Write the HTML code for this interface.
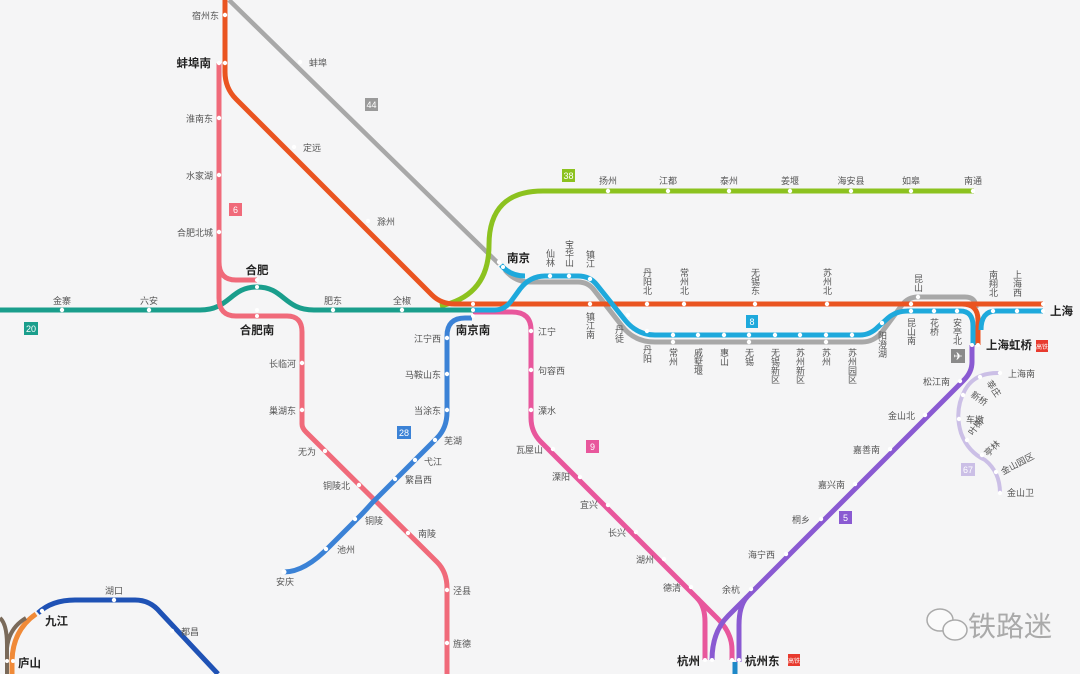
<!DOCTYPE html>
<html><head><meta charset="utf-8"><style>
html,body{margin:0;padding:0;background:#f5f5f6;}
svg{display:block;font-family:"Liberation Sans","Noto Sans CJK SC",sans-serif;}
.s{font-size:9px;fill:#555;}
.b{font-size:11.5px;font-weight:bold;fill:#222;}
.v{font-size:9px;fill:#555;writing-mode:vertical-rl;letter-spacing:0px;}
.bd{font-size:9px;fill:#fff;text-anchor:middle;}
path{fill:none;stroke-linecap:butt;stroke-linejoin:round;}
</style></head><body>
<svg width="1080" height="674" viewBox="0 0 1080 674" xmlns="http://www.w3.org/2000/svg">
<rect width="1080" height="674" fill="#f5f5f6"/>
<!-- gray 44 -->
<path d="M229,0 L499,264" stroke="#a8a8a8" stroke-width="4.5"/>
<!-- gray 8 -->
<path d="M505,270 Q515,282 530,282 H578 Q588,282 594,290 L622,326 Q634,342 655,342 H862 Q874,342 882,332 L902,305 Q908,297 918,297 H965 Q976,297 976,308" stroke="#a8a8a8" stroke-width="5"/>
<!-- green 38 -->
<path d="M440,306 Q489,296 489,245 Q489,191 543,191 H974" stroke="#8cc21f" stroke-width="5"/>
<!-- teal 20 -->
<path d="M0,310 H200 C230,310 230,287 257,287 C284,287 284,310 314,310 H474" stroke="#1a9e8c" stroke-width="5"/>
<!-- pink 6 -->
<path d="M219,63 V298 Q219,316 236,316 H287 Q302,316 302,332 V424 Q302,428 306,432 L437,562 Q447,572 447,588 V674" stroke="#f06a7a" stroke-width="5"/>
<path d="M219,262 Q219,280 236,280 H257" stroke="#f06a7a" stroke-width="5"/>
<!-- blue 28 -->
<path d="M472,318 H465 Q447,318 447,336 V412 Q447,428 437,438 L372,503 Q364,512 360,516 L330,546 Q305,572 284,572" stroke="#3b82d6" stroke-width="5"/>
<!-- magenta 9 -->
<path d="M473,312 H512 Q531,312 531,330 V418 Q531,432 541,442 L697,598 Q705,606 705,622 V660" stroke="#e8579c" stroke-width="5"/>
<path d="M697,598 L718,619 Q732,633 732,650 V660" stroke="#e8579c" stroke-width="5"/>
<!-- orange -->
<path d="M225,0 V72 Q225,88 236,99 L432,295 Q441,304 455,304 H1043" stroke="#ea5420" stroke-width="5"/>
<path d="M962,304 Q978,304 978,320 V345" stroke="#ea5420" stroke-width="5"/>
<!-- cyan 8 -->
<path d="M473,310 H495 Q505,310 512,300 L520,289 Q530,276 545,276 H578 Q590,276 597,285 L625,320 Q637,335 655,335 H860 Q870,335 878,327 L888,318 Q896,311 908,311 H960 Q973,311 973,326 V345" stroke="#1ea9dc" stroke-width="5"/>
<path d="M501,265 Q510,276 525,276" stroke="#1ea9dc" stroke-width="5"/>
<path d="M981,330 Q981,311 996,311 H1043" stroke="#1ea9dc" stroke-width="5"/>
<!-- purple 5 -->
<path d="M972,345 V362 Q972,372 964,380 L728,616 Q712,632 712,660" stroke="#8a5ad2" stroke-width="5"/>
<path d="M747,597 Q739,606 739,625 V662" stroke="#8a5ad2" stroke-width="5"/>
<path d="M735,662 V674" stroke="#1e88c8" stroke-width="5"/>
<!-- light purple 67 -->
<path d="M1000,373 Q975,372 965,390 Q954,410 961,433 Q968,452 985,460 Q1000,472 1000,493" stroke="#cbbfe6" stroke-width="4"/>
<!-- bottom-left -->
<path d="M38,613 Q52,600 75,600 H135 Q150,600 160,612 L218,674" stroke="#1f52b5" stroke-width="5"/>
<path d="M36,614 Q13,630 12,660 V674" stroke="#f08a38" stroke-width="5"/>
<path d="M0,618 Q7,624 7,645 V674 M26,618 Q9,628 7,648" stroke="#7a6a5a" stroke-width="4"/>

<!-- station dots -->
<g fill="#fff">
<circle cx="225" cy="15" r="2.2"/><circle cx="219" cy="63" r="2.2"/><circle cx="225" cy="63" r="2.2"/>
<circle cx="300" cy="62" r="2.2"/><circle cx="294" cy="147" r="2.2"/><circle cx="368" cy="221" r="2.2"/>
<circle cx="219" cy="118" r="2.2"/><circle cx="219" cy="175" r="2.2"/><circle cx="219" cy="232" r="2.2"/>
<circle cx="257" cy="280" r="2"/><circle cx="257" cy="287" r="2"/><circle cx="257" cy="310" r="2"/><circle cx="257" cy="316" r="2"/>
<circle cx="62" cy="310" r="2.2"/><circle cx="149" cy="310" r="2.2"/><circle cx="333" cy="310" r="2.2"/><circle cx="402" cy="310" r="2.2"/>
<circle cx="473" cy="304" r="2"/><circle cx="473" cy="310" r="2"/><circle cx="473" cy="316" r="2"/>
<circle cx="499" cy="262" r="2.2"/><circle cx="503" cy="267" r="2"/>
<circle cx="608" cy="191" r="2.2"/><circle cx="668" cy="191" r="2.2"/><circle cx="729" cy="191" r="2.2"/><circle cx="790" cy="191" r="2.2"/><circle cx="851" cy="191" r="2.2"/><circle cx="911" cy="191" r="2.2"/><circle cx="973" cy="191" r="2.2"/>
<circle cx="550" cy="276" r="2.2"/><circle cx="569" cy="276" r="2.2"/><circle cx="590" cy="279" r="2.2"/><circle cx="590" cy="304" r="2.2"/>
<circle cx="628" cy="315" r="2.2"/><circle cx="647" cy="331" r="2.2"/><circle cx="647" cy="304" r="2.2"/><circle cx="684" cy="304" r="2.2"/><circle cx="755" cy="304" r="2.2"/><circle cx="827" cy="304" r="2.2"/><circle cx="911" cy="304" r="2.2"/>
<circle cx="673" cy="335" r="2.2"/><circle cx="698" cy="335" r="2.2"/><circle cx="724" cy="335" r="2.2"/><circle cx="749" cy="335" r="2.2"/><circle cx="775" cy="335" r="2.2"/><circle cx="800" cy="335" r="2.2"/><circle cx="826" cy="335" r="2.2"/><circle cx="852" cy="335" r="2.2"/>
<circle cx="673" cy="342" r="2.2"/><circle cx="749" cy="342" r="2.2"/><circle cx="826" cy="342" r="2.2"/><circle cx="918" cy="297" r="2.2"/>
<circle cx="882" cy="323" r="2.2"/><circle cx="911" cy="311" r="2.2"/><circle cx="934" cy="311" r="2.2"/><circle cx="957" cy="311" r="2.2"/>
<circle cx="993" cy="311" r="2.2"/><circle cx="1017" cy="311" r="2.2"/><circle cx="1043" cy="304" r="2"/><circle cx="1043" cy="311" r="2"/>
<circle cx="972" cy="345" r="2"/><circle cx="978" cy="345" r="2"/>
<circle cx="447" cy="338" r="2.2"/><circle cx="447" cy="374" r="2.2"/><circle cx="447" cy="410" r="2.2"/><circle cx="435" cy="440" r="2.2"/><circle cx="415" cy="460" r="2.2"/><circle cx="395" cy="479" r="2.2"/><circle cx="355" cy="519" r="2.2"/><circle cx="326" cy="549" r="2.2"/><circle cx="284" cy="572" r="2.5"/>
<circle cx="302" cy="363" r="2.2"/><circle cx="302" cy="410" r="2.2"/><circle cx="325" cy="451" r="2.2"/><circle cx="359" cy="485" r="2.2"/><circle cx="408" cy="533" r="2.2"/><circle cx="447" cy="590" r="2.2"/><circle cx="447" cy="643" r="2.2"/>
<circle cx="531" cy="331" r="2.2"/><circle cx="531" cy="370" r="2.2"/><circle cx="531" cy="410" r="2.2"/><circle cx="553" cy="449" r="2.2"/><circle cx="580" cy="477" r="2.2"/><circle cx="608" cy="505" r="2.2"/><circle cx="636" cy="532" r="2.2"/><circle cx="664" cy="559" r="2.2"/><circle cx="691" cy="587" r="2.2"/>
<circle cx="960" cy="381" r="2.2"/><circle cx="925" cy="415" r="2.2"/><circle cx="890" cy="449" r="2.2"/><circle cx="855" cy="484" r="2.2"/><circle cx="821" cy="519" r="2.2"/><circle cx="786" cy="554" r="2.2"/><circle cx="751" cy="589" r="2.2"/>
<circle cx="705" cy="660" r="2"/><circle cx="712" cy="660" r="2"/><circle cx="732" cy="660" r="2"/><circle cx="739" cy="660" r="2"/>
<circle cx="1000" cy="373" r="2.2"/><circle cx="980" cy="377" r="2.2"/><circle cx="963" cy="395" r="2.2"/><circle cx="959" cy="419" r="2.2"/><circle cx="967" cy="440" r="2.2"/><circle cx="982" cy="455" r="2.2"/><circle cx="996" cy="472" r="2.2"/><circle cx="1000" cy="493" r="2.2"/>
<circle cx="42" cy="611" r="2.2"/><circle cx="114" cy="600" r="2.2"/><circle cx="172" cy="631" r="2.2"/><circle cx="7" cy="661" r="2"/><circle cx="13" cy="661" r="2"/>
</g>

<!-- badges -->
<rect x="365" y="98" width="13" height="13" fill="#9a9a9a"/><text class="bd" x="371.5" y="108">44</text>
<rect x="229" y="203" width="13" height="13" fill="#f06a7a"/><text class="bd" x="235.5" y="213">6</text>
<rect x="562" y="169" width="13" height="13" fill="#8cc21f"/><text class="bd" x="568.5" y="179">38</text>
<rect x="24" y="322" width="14" height="13" fill="#1a9e8c"/><text class="bd" x="31" y="332">20</text>
<rect x="746" y="315" width="12" height="13" fill="#1ea9dc"/><text class="bd" x="752" y="325">8</text>
<rect x="397" y="426" width="14" height="13" fill="#3b82d6"/><text class="bd" x="404" y="436">28</text>
<rect x="586" y="440" width="13" height="13" fill="#e8579c"/><text class="bd" x="592.5" y="450">9</text>
<rect x="839" y="511" width="13" height="13" fill="#8a5ad2"/><text class="bd" x="845.5" y="521">5</text>
<rect x="961" y="463" width="14" height="13" fill="#cbbfe6"/><text class="bd" x="968" y="473">67</text>
<rect x="1036" y="340" width="12" height="12" fill="#e83a2e"/><text x="1042" y="349" style="font-size:6px;fill:#fff;text-anchor:middle">高铁</text>
<rect x="788" y="654" width="12" height="12" fill="#e83a2e"/><text x="794" y="663" style="font-size:6px;fill:#fff;text-anchor:middle">高铁</text>
<rect x="951" y="349" width="14" height="14" fill="#8a8a8a"/><text x="958" y="360" style="font-size:11px;fill:#fff;text-anchor:middle">✈</text>

<!-- labels horizontal -->
<g class="s">
<text x="219" y="19" text-anchor="end">宿州东</text>
<text x="309" y="66">蚌埠</text>
<text x="213" y="122" text-anchor="end">淮南东</text>
<text x="213" y="179" text-anchor="end">水家湖</text>
<text x="213" y="236" text-anchor="end">合肥北城</text>
<text x="303" y="151">定远</text>
<text x="377" y="225">滁州</text>
<text x="62" y="304" text-anchor="middle">金寨</text>
<text x="149" y="304" text-anchor="middle">六安</text>
<text x="333" y="304" text-anchor="middle">肥东</text>
<text x="402" y="304" text-anchor="middle">全椒</text>
<text x="608" y="184" text-anchor="middle">扬州</text>
<text x="668" y="184" text-anchor="middle">江都</text>
<text x="729" y="184" text-anchor="middle">泰州</text>
<text x="790" y="184" text-anchor="middle">姜堰</text>
<text x="851" y="184" text-anchor="middle">海安县</text>
<text x="911" y="184" text-anchor="middle">如皋</text>
<text x="973" y="184" text-anchor="middle">南通</text>
<text x="441" y="342" text-anchor="end">江宁西</text>
<text x="441" y="378" text-anchor="end">马鞍山东</text>
<text x="441" y="414" text-anchor="end">当涂东</text>
<text x="444" y="444">芜湖</text>
<text x="424" y="465">弋江</text>
<text x="405" y="483">繁昌西</text>
<text x="365" y="524">铜陵</text>
<text x="337" y="553">池州</text>
<text x="285" y="585" text-anchor="middle">安庆</text>
<text x="296" y="367" text-anchor="end">长临河</text>
<text x="296" y="414" text-anchor="end">巢湖东</text>
<text x="316" y="455" text-anchor="end">无为</text>
<text x="350" y="489" text-anchor="end">铜陵北</text>
<text x="418" y="537">南陵</text>
<text x="453" y="594">泾县</text>
<text x="453" y="647">旌德</text>
<text x="538" y="335">江宁</text>
<text x="538" y="374">句容西</text>
<text x="538" y="414">溧水</text>
<text x="543" y="453" text-anchor="end">瓦屋山</text>
<text x="570" y="480" text-anchor="end">溧阳</text>
<text x="598" y="508" text-anchor="end">宜兴</text>
<text x="626" y="536" text-anchor="end">长兴</text>
<text x="654" y="563" text-anchor="end">湖州</text>
<text x="681" y="591" text-anchor="end">德清</text>
<text x="740" y="593" text-anchor="end">余杭</text>
<text x="775" y="558" text-anchor="end">海宁西</text>
<text x="810" y="523" text-anchor="end">桐乡</text>
<text x="845" y="488" text-anchor="end">嘉兴南</text>
<text x="880" y="453" text-anchor="end">嘉善南</text>
<text x="915" y="419" text-anchor="end">金山北</text>
<text x="950" y="385" text-anchor="end">松江南</text>
<text x="1008" y="377">上海南</text>
<text x="966" y="423">车墩</text>
<text x="1007" y="496">金山卫</text>
<text x="114" y="594" text-anchor="middle">湖口</text>
<text x="181" y="635">都昌</text>
<text transform="translate(986,383) rotate(55)">莘庄</text>
<text transform="translate(970,396) rotate(35)">新桥</text>
<text transform="translate(973,436) rotate(-55)">叶榭</text>
<text transform="translate(988,457) rotate(-45)">亭林</text>
<text transform="translate(1003,475) rotate(-28)">金山园区</text>
</g>
<!-- vertical labels -->
<g class="v">
<text x="550" y="249">仙林</text>
<text x="569" y="240">宝华山</text>
<text x="590" y="250">镇江</text>
<text x="590" y="312">镇江南</text>
<text x="619" y="325">丹徒</text>
<text x="647" y="345">丹阳</text>
<text x="647" y="268">丹阳北</text>
<text x="684" y="268">常州北</text>
<text x="755" y="268">无锡东</text>
<text x="827" y="268">苏州北</text>
<text x="918" y="274">昆山</text>
<text x="993" y="270">南翔北</text>
<text x="1017" y="270">上海西</text>
<text x="673" y="348">常州</text>
<text x="698" y="348">戚墅堰</text>
<text x="724" y="348">惠山</text>
<text x="749" y="348">无锡</text>
<text x="775" y="348">无锡新区</text>
<text x="800" y="348">苏州新区</text>
<text x="826" y="348">苏州</text>
<text x="852" y="348">苏州园区</text>
<text x="882" y="331">阳澄湖</text>
<text x="911" y="318">昆山南</text>
<text x="934" y="318">花桥</text>
<text x="957" y="318">安亭北</text>
</g>
<!-- bold -->
<g class="b">
<text x="211" y="67" text-anchor="end">蚌埠南</text>
<text x="257" y="274" text-anchor="middle">合肥</text>
<text x="257" y="334" text-anchor="middle">合肥南</text>
<text x="507" y="262">南京</text>
<text x="473" y="334" text-anchor="middle">南京南</text>
<text x="1050" y="315">上海</text>
<text x="986" y="349">上海虹桥</text>
<text x="700" y="665" text-anchor="end">杭州</text>
<text x="745" y="665">杭州东</text>
<text x="45" y="625">九江</text>
<text x="18" y="667">庐山</text>
</g>
<!-- watermark -->
<g fill="#fafafa" stroke="#aaa" stroke-width="1.5">
<ellipse cx="940" cy="620" rx="13" ry="11"/>
<ellipse cx="955" cy="630" rx="12" ry="10"/>
</g>
<text x="968" y="636" style="font-size:28px;fill:#aaa;">铁路迷</text>
</svg>
</body></html>
